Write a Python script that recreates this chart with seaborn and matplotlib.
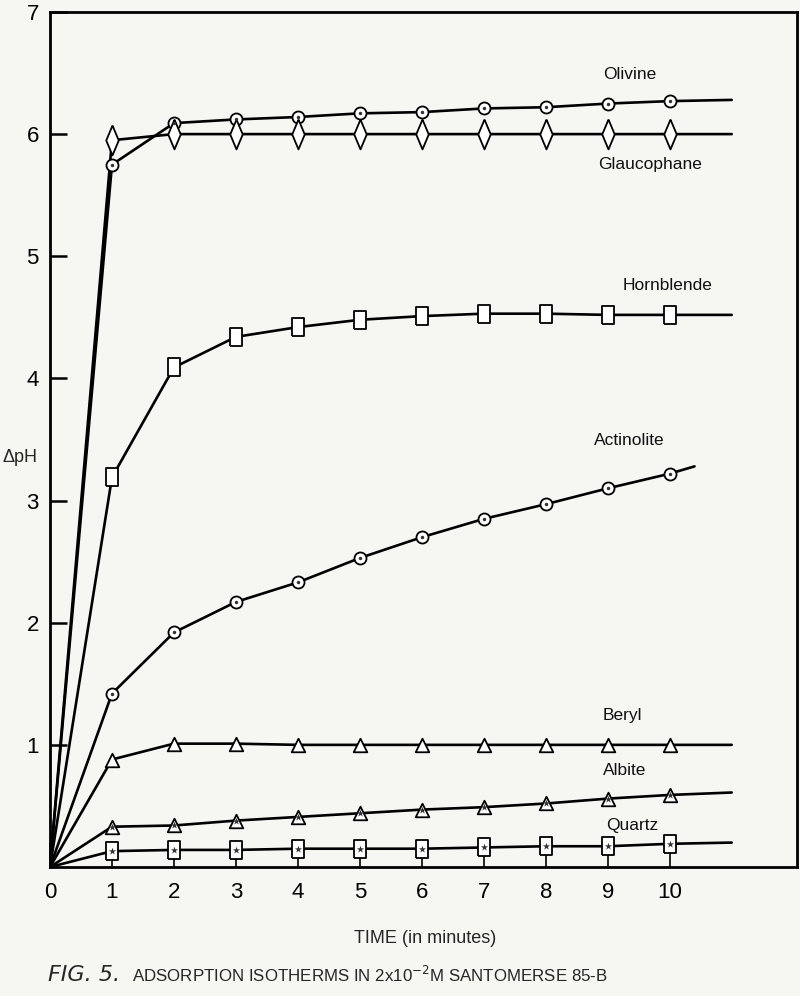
import matplotlib
matplotlib.use('Agg')
import matplotlib.pyplot as plt
import pandas as pd
import seaborn as sns

sns.set_theme(style='white')
plt.rcParams['font.family'] = ['Liberation Sans', 'DejaVu Sans']

# ---- data ----
time_min = [0, 1, 2, 3, 4, 5, 6, 7, 8, 9, 10]
olivine = [0, 5.75, 6.09, 6.12, 6.14, 6.17, 6.18, 6.21, 6.22, 6.25, 6.27]
glaucophane = [0, 5.95, 6.0, 6.0, 6.0, 6.0, 6.0, 6.0, 6.0, 6.0, 6.0]
hornblende = [0, 3.19, 4.09, 4.34, 4.42, 4.48, 4.51, 4.53, 4.53, 4.52, 4.52]
actinolite = [0, 1.42, 1.92, 2.17, 2.33, 2.53, 2.70, 2.85, 2.97, 3.10, 3.22]
beryl = [0, 0.88, 1.01, 1.01, 1.0, 1.0, 1.0, 1.0, 1.0, 1.0, 1.0]
albite = [0, 0.33, 0.34, 0.38, 0.41, 0.44, 0.47, 0.49, 0.52, 0.56, 0.59]
quartz = [0, 0.13, 0.14, 0.14, 0.15, 0.15, 0.15, 0.16, 0.17, 0.17, 0.19]
# curves are continued a little past the last measured point
end_time = [11, 11, 11, 10.4, 11, 11, 11]
end_value = [6.28, 6.0, 4.52, 3.28, 1.0, 0.61, 0.20]

minerals = ['Olivine', 'Glaucophane', 'Hornblende', 'Actinolite', 'Beryl', 'Albite', 'Quartz']
series = [olivine, glaucophane, hornblende, actinolite, beryl, albite, quartz]

x_ticks = [0, 1, 2, 3, 4, 5, 6, 7, 8, 9, 10]
y_ticks = [1, 2, 3, 4, 5, 6, 7]

label_pos = {
    'Olivine': (9.35, 6.49), 'Glaucophane': (9.68, 5.75), 'Hornblende': (9.97, 4.76),
    'Actinolite': (9.35, 3.49), 'Beryl': (9.23, 1.24), 'Albite': (9.27, 0.79),
    'Quartz': (9.39, 0.34),
}

# ---- marker shapes ----
diamond = [(0, 1), (0.42, 0), (0, -1), (-0.42, 0), (0, 1)]
rect = [(-0.36, -0.55), (0.36, -0.55), (0.36, 0.55), (-0.36, 0.55), (-0.36, -0.55)]
styles = {
    'Olivine': dict(marker='o', s=75, inner='.'),
    'Glaucophane': dict(marker=diamond, s=460, inner=None),
    'Hornblende': dict(marker=rect, s=180, inner=None),
    'Actinolite': dict(marker='o', s=75, inner='.'),
    'Beryl': dict(marker='^', s=95, inner=None),
    'Albite': dict(marker='^', s=95, inner='*'),
    'Quartz': dict(marker=rect, s=160, inner='*'),
}

bg = '#f6f6f3'
fig = plt.figure(figsize=(8, 9.96), dpi=100, facecolor=bg)
ax = fig.add_axes([0.0625, 0.1295, 0.9335, 0.8585])
ax.set_facecolor(bg)

for name, vals, ex, ey in zip(minerals, series, end_time, end_value):
    line_df = pd.DataFrame({'t': time_min + [ex], 'v': vals + [ey]})
    sns.lineplot(data=line_df, x='t', y='v', ax=ax, color='black', lw=1.9,
                 estimator=None, sort=False, zorder=2)
    pts = pd.DataFrame({'t': time_min[1:], 'v': vals[1:]})
    st = styles[name]
    sns.scatterplot(data=pts, x='t', y='v', ax=ax, marker=st['marker'], s=st['s'],
                    facecolor='white', edgecolor='black', linewidth=1.3, zorder=3)
    if st['inner'] is not None:
        sns.scatterplot(data=pts, x='t', y='v', ax=ax, marker=st['inner'],
                        s=30 if st['inner'] == '*' else 25, color='#333333',
                        linewidth=0, zorder=4)
    lx, ly = label_pos[name]
    ax.text(lx, ly, name, fontsize=12.5, ha='center', va='center', color='#111111')

ax.set_xlim(0, 12.05)
ax.set_ylim(0, 7)
ax.set_xticks(x_ticks)
ax.set_xticklabels([str(v) for v in x_ticks])
ax.set_yticks(y_ticks)
ax.set_yticklabels([str(v) for v in y_ticks])
ax.tick_params(axis='y', direction='in', length=12, width=1.8, labelsize=16,
               pad=8, colors='black', left=True)
ax.tick_params(axis='x', direction='in', length=17, width=1.2, labelsize=16,
               pad=11, colors='black', bottom=True)
for sp in ax.spines.values():
    sp.set_color('black')
    sp.set_linewidth(2.0)

ax.set_xlabel('TIME (in minutes)', fontsize=13)
ax.xaxis.set_label_coords(0.502, -0.074)
ax.set_ylabel('ΔpH', fontsize=13, rotation=0)
ax.yaxis.set_label_coords(-0.04, 0.469)

fig.text(0.06, 0.021, 'FIG. 5.', fontsize=16, fontstyle='italic', ha='left', va='center',
         family=['DejaVu Sans'])
fig.text(0.165, 0.021, 'ADSORPTION ISOTHERMS IN 2x10$^{-2}$M SANTOMERSE 85-B',
         fontsize=12.2, ha='left', va='center')

fig.savefig('out.png', dpi=100, facecolor=bg)
